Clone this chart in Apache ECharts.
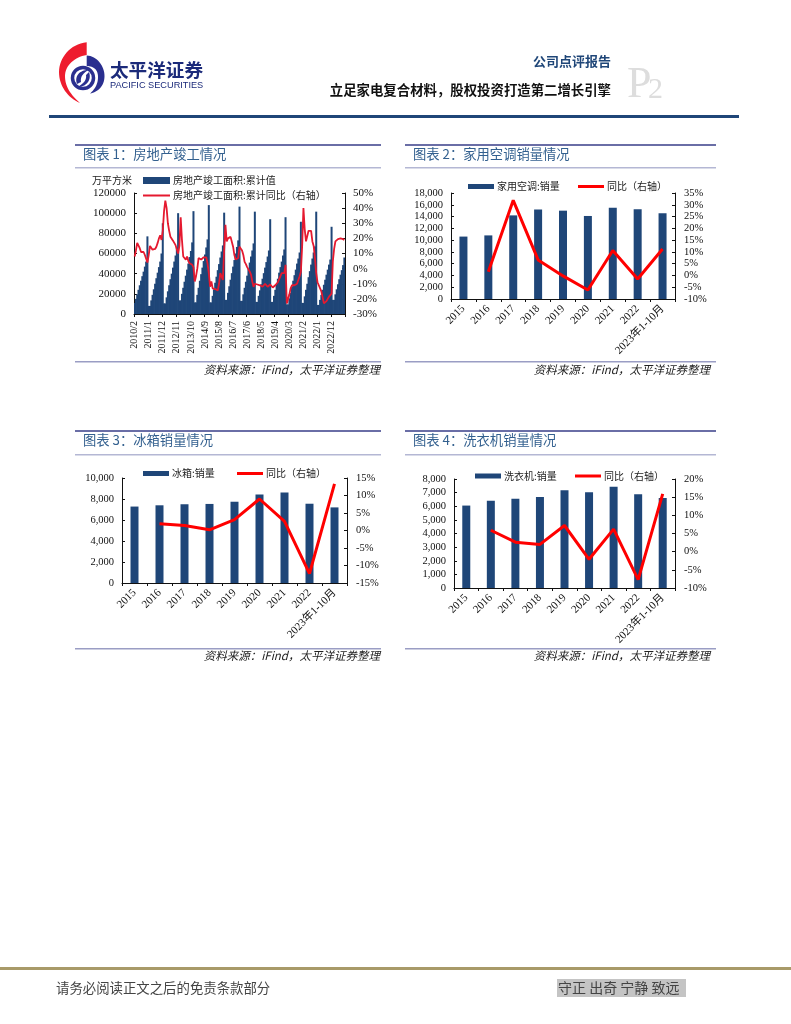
<!DOCTYPE html>
<html><head><meta charset="utf-8">
<style>html,body{margin:0;padding:0;background:#fff}#c{width:791px;height:1024px}</style>
<script src="https://cdn.jsdelivr.net/npm/echarts@6/dist/echarts.min.js"></script>
</head><body><div id="c"></div>
<script>
// ---------- Data ----------
const monthLabels = [];
(function(){let y=2010,m=2;for(let i=0;i<165;i++){monthLabels.push(y+'/'+m);m++;if(m>12){m=1;y++;}}})();
const completedArea = [
 11000,15000,19500,24000,28500,33000,37500,42000,47000,52000,77000,
 8000,8000,13500,19000,24500,30000,35500,41000,46500,52000,60000,90000,
 10500,10500,16500,22500,28500,34500,40000,46000,52000,58000,66000,100000,
 13500,13500,20000,26000,32000,38000,44000,50000,56500,62500,71000,102000,
 11500,11500,19000,26000,33000,39500,46000,52500,59000,66000,74000,108000,
 11500,11500,18000,24500,31000,37000,43500,49500,56000,62000,68000,100500,
 14000,14000,21000,27500,34000,40500,47000,53500,60000,66500,73000,106500,
 13000,13000,19500,26000,32000,38000,44500,51000,57000,63000,70000,101500,
 12000,12000,18000,23500,29500,35000,40500,46000,51500,57000,63000,94000,
 12000,12000,18000,24000,29500,35000,41000,46500,52000,58000,64000,96000,
 9500,9500,15500,21000,27000,33000,38500,44000,50000,55000,61000,91500,
 11000,11000,17500,24000,30000,36500,42500,49000,55000,61000,67000,101500,
 9000,9000,14000,19000,24000,29000,34000,39000,44000,49000,54000,86500,
 14000,14000,19500,24500,29500,34500,39000,43500,48500,56000];
const completedYoY = [
 8,12,17,18,13.5,11,10.5,11,9,10,4,
 9,15,14,12.5,12,13,14.5,17,20,22,19,25,
 38,45,40,30,25,21,20,18.5,17,15.5,15,10,
 15,34,19,8,7,6,8,5,3.5,3,2.5,1,
 -8.5,-5,0,7,8,6,7,7.5,8,7.5,3.5,-3,
 -12,-8.5,-13,-12,-13.5,-14,-14.5,-10,-3,-4,-7.5,12,
 29,18,20,20,21,20,14.5,9,6,5.5,7,14.5,
 15.5,12,9,4.5,3,1,0,-2,-4,-8.5,-12,-10,
 -10,-10.5,-11,-11,-11.5,-12,-12.5,-10,-9,-12,-11,-10.5,
 -11,-12.5,-12,-11,-10,-9,-7,-5,-3,-4,-3,2.5,
 -23,-22,-17,-13,-11,-11,-11,-11.5,-10,-7.5,-5,-2,
 15,40,26,18,17,25,26,25,18,15,7,-3,
 -9,-11,-11.5,-15,-19,-23,-23.5,-21.5,-20,-18.5,-18,-16.5,
 5,13,18,19,19.5,20,20,19.5,19.5,19];
const yearLabels = ['2015','2016','2017','2018','2019','2020','2021','2022','2023年1-10月'];
const acSales = [10600,10800,14200,15200,15000,14100,15500,15250,14550];
const acYoY = [null,1.6,31.9,6.6,-0.2,-6.2,10.6,-1.5,11.2];
const fridgeSales = [7280,7400,7500,7530,7740,8430,8620,7550,7200];
const fridgeYoY = [null,1.9,1.4,0.2,3.1,9,2.6,-12.3,13.3];
const washerSales = [6050,6400,6550,6680,7170,7020,7440,6880,6600];
const washerYoY = [null,5.9,2.6,2,7.2,-2.1,6.2,-7.7,15.9];
const panelTitles = ['图表 1：房地产竣工情况','图表 2：家用空调销量情况','图表 3：冰箱销量情况','图表 4：洗衣机销量情况'];
const sourceText = '资料来源：iFind，太平洋证券整理';

// ---------- Style ----------
const NUM = '"Liberation Serif","Noto Sans CJK SC",serif';
const CJK = '"Noto Sans CJK SC",sans-serif';
const BAR = '#1F4678', RED1 = '#E5192F', RED = '#FF0000';

const grids = [], xAxes = [], yAxes = [], series = [], legends = [];
function addChart(c){
  const g = grids.length;
  grids.push({left:c.l, top:c.t, width:c.r-c.l, height:c.b-c.t, containLabel:false});
  const axisLine = {show:true, onZero:false, lineStyle:{color:'#111', width:1}};
  const fs = c.dense?11:10.5;
  xAxes.push({type:'category', gridIndex:g, data:c.cats, boundaryGap:true, axisLine,
    axisTick:{show:true, length:3, interval:c.dense?10:0, lineStyle:{color:'#111'}},
    axisLabel:{interval:c.dense?10:0, rotate:c.dense?90:45, fontFamily:NUM, fontSize:c.dense?10:11, color:'#111', margin:c.dense?7:8, hideOverlap:false}});
  const fmt = v => v.toLocaleString('en-US');
  yAxes.push({type:'value', gridIndex:g, min:0, max:c.max, interval:c.step, splitLine:{show:false}, axisLine,
    axisTick:{show:true, inside:true, length:3, lineStyle:{color:'#111'}},
    name:c.unit||'', nameLocation:'end', nameGap:8, nameTextStyle:{fontFamily:CJK,fontSize:10,color:'#222',align:'right',padding:[0,2,0,0]},
    axisLabel:{fontFamily:NUM, fontSize:fs, color:'#111', margin:8, formatter:c.plain?(v=>String(v)):fmt}});
  yAxes.push({type:'value', gridIndex:g, position:'right', min:c.rmin, max:c.rmax, interval:c.rstep, splitLine:{show:false}, axisLine,
    axisTick:{show:true, inside:true, length:3, lineStyle:{color:'#111'}},
    axisLabel:{fontFamily:NUM, fontSize:fs, color:'#111', margin:c.dense?8:9, formatter:'{value}%'}});
  const xi = xAxes.length-1, yi = yAxes.length-2;
  series.push({type:'bar', name:c.barName, xAxisIndex:xi, yAxisIndex:yi, data:c.bars, animation:false,
    itemStyle:{color:BAR}, barWidth:c.dense?2:8});
  const lc = c.dense?RED1:RED;
  series.push({type:'line', name:c.lineName, xAxisIndex:xi, yAxisIndex:yi+1, data:c.line, animation:false, z:5,
    symbol:'none', showSymbol:false, smooth:false, connectNulls:false,
    lineStyle:{color:lc, width:c.dense?1.8:3}, itemStyle:{color:lc}});
  const textStyle = {fontFamily:CJK, fontSize:10, color:'#222', padding:[0,0,0,-2]};
  legends.push({data:[{name:c.barName,icon:'rect'}], left:c.barLeg[0], top:c.barLeg[1], itemWidth:c.dense?27:26, itemHeight:c.dense?7:5, selectedMode:false, padding:0, textStyle});
  legends.push({data:[{name:c.lineName,icon:'rect'}], left:c.lineLeg[0], top:c.lineLeg[1], itemWidth:c.dense?27:26, itemHeight:c.dense?2:3, selectedMode:false, padding:0, textStyle});
}
addChart({dense:true,l:134,r:345,t:193,b:314,cats:monthLabels,bars:completedArea,line:completedYoY,max:120000,step:20000,rmin:-30,rmax:50,rstep:10,plain:true,unit:'万平方米',
  barName:'房地产竣工面积:累计值',lineName:'房地产竣工面积:累计同比（右轴）',barLeg:[143,175.5],lineLeg:[143,190.5]});
addChart({l:451,r:675,t:193,b:299,cats:yearLabels,bars:acSales,line:acYoY,max:18000,step:2000,rmin:-10,rmax:35,rstep:5,
  barName:'家用空调:销量',lineName:'同比（右轴）',barLeg:[468,181.5],lineLeg:[578,181.5]});
addChart({l:122,r:347,t:478,b:583,cats:yearLabels,bars:fridgeSales,line:fridgeYoY,max:10000,step:2000,rmin:-15,rmax:15,rstep:5,
  barName:'冰箱:销量',lineName:'同比（右轴）',barLeg:[143,468.5],lineLeg:[237,468.5]});
addChart({l:454,r:675,t:479,b:588,cats:yearLabels,bars:washerSales,line:washerYoY,max:8000,step:1000,rmin:-10,rmax:20,rstep:5,
  barName:'洗衣机:销量',lineName:'同比（右轴）',barLeg:[475,471],lineLeg:[575,471]});

// ---------- Page furniture ----------
const gfx = [];
const rect=(x,y,w,h,fill)=>gfx.push({type:'rect',silent:true,shape:{x,y,width:w,height:h},style:{fill}});
const text=(x,y,t,font,fill,align)=>gfx.push({type:'text',silent:true,x,y,style:{text:t,font,fill,textAlign:align||'left',textVerticalAlign:'middle'}});
// closed outline made of cubic curves: start point followed by [c1x,c1y,c2x,c2y,x,y] segments
function curveShape(start,segs,fill){
  const pts=[start.slice()];let p=start;
  segs.forEach(s=>{for(let k=1;k<=16;k++){const t=k/16,u=1-t;
    pts.push([u*u*u*p[0]+3*u*u*t*s[0]+3*u*t*t*s[2]+t*t*t*s[4],u*u*u*p[1]+3*u*u*t*s[1]+3*u*t*t*s[3]+t*t*t*s[5]]);}
    p=[s[4],s[5]];});
  gfx.push({type:'polygon',silent:true,shape:{points:pts},style:{fill}});
}

const panels=[[75,381,144,167,361,370],[405,716,144,167,361,370],[75,381,430,454,648,656],[405,716,430,454,648,656]];
panels.forEach((p,i)=>{
  rect(p[0],p[2],p[1]-p[0],2,'#6A6EA6');
  rect(p[0],p[3],p[1]-p[0],1.5,'#B4B7D4');
  rect(p[0],p[4],p[1]-p[0],1.5,'#9A9DC4');
  text(p[0]+8,p[2]+10,panelTitles[i],'13.3px '+CJK,'#33608F');
  text(p[1]-(i%2?6:1),p[5],sourceText,'italic 11.5px '+CJK,'#222','right');
});
// header
rect(49,115,690,3,'#1F4678');
text(611,61,'公司点评报告','bold 13px '+CJK,'#1F4678','right');
text(611,90,'立足家电复合材料，股权投资打造第二增长引擎','bold 13.4px '+CJK,'#111','right');
text(627,85,'P','44px "Liberation Serif",serif','#DDDDDD');
text(648,90,'2','30px "Liberation Serif",serif','#DDDDDD');
// logo
curveShape([86.7,42.3],[[70,44,59,58,59,72],[59,86,68,98,80,103],[71,95,65,87,65,76],[65,66,74,57,86.7,55]],'#EE1C2E');
curveShape([86.7,55.5],[[97,56,104.5,66,104.5,76],[104.5,86,98,92,90,93.5],[95,89,98,84,98,77],[98,70,94,66,86.7,66]],'#2A2F8F');
gfx.push({type:'circle',silent:true,shape:{cx:83,cy:78,r:10.5},style:{fill:'#fff',stroke:'#2A2F8F',lineWidth:3.5}});
curveShape([77,84],[[74,76,80,70,88,70],[84,73,80,76,81,82]],'#2A2F8F');
curveShape([89,72],[[92,80,86,87,78,87],[82,84,87,81,86,75]],'#2A2F8F');
text(110,70,'太平洋证券','bold 18.6px '+CJK,'#1B2A7A');
text(110,85.5,'PACIFIC SECURITIES','9.2px "Liberation Sans",sans-serif','#1B2A7A');
// footer
rect(0,967,791,3,'#A89A68');
text(56,988,'请务必阅读正文之后的免责条款部分','13.4px '+CJK,'#444');
rect(557,979,129,18,'#C4C4C4');
text(558,988,'守正 出奇 宁静 致远','14px '+CJK,'#444');

const chart = echarts.init(document.getElementById('c'),null,{renderer:'canvas'});
chart.setOption({animation:false, backgroundColor:'#fff', tooltip:{show:false},
  grid:grids, xAxis:xAxes, yAxis:yAxes, series, legend:legends, graphic:{elements:gfx}});
</script></body></html>
